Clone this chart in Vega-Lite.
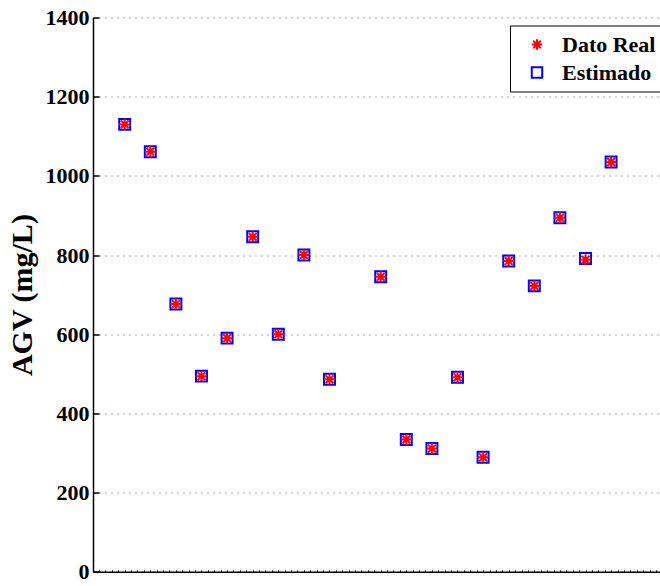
{
  "$schema": "https://vega.github.io/schema/vega-lite/v6.json",
  "autosize": {"type": "none"},
  "padding": {"left": 93, "top": 17.5, "right": 0, "bottom": 14.3},
  "width": 567,
  "height": 554.2,
  "background": "white",
  "config": {
    "view": {"stroke": null},
    "font": "Liberation Serif"
  },
  "data": {
    "values": [
      {"muestra": 1, "serie": "Estimado", "agv": 1130},
      {"muestra": 2, "serie": "Estimado", "agv": 1061},
      {"muestra": 3, "serie": "Estimado", "agv": 676},
      {"muestra": 4, "serie": "Estimado", "agv": 494},
      {"muestra": 5, "serie": "Estimado", "agv": 590},
      {"muestra": 6, "serie": "Estimado", "agv": 846},
      {"muestra": 7, "serie": "Estimado", "agv": 600},
      {"muestra": 8, "serie": "Estimado", "agv": 800},
      {"muestra": 9, "serie": "Estimado", "agv": 486},
      {"muestra": 11, "serie": "Estimado", "agv": 745},
      {"muestra": 12, "serie": "Estimado", "agv": 334},
      {"muestra": 13, "serie": "Estimado", "agv": 311},
      {"muestra": 14, "serie": "Estimado", "agv": 491},
      {"muestra": 15, "serie": "Estimado", "agv": 289},
      {"muestra": 16, "serie": "Estimado", "agv": 785},
      {"muestra": 17, "serie": "Estimado", "agv": 722},
      {"muestra": 18, "serie": "Estimado", "agv": 894},
      {"muestra": 19, "serie": "Estimado", "agv": 791},
      {"muestra": 20, "serie": "Estimado", "agv": 1035},
      {"muestra": 1, "serie": "Dato Real", "agv": 1130},
      {"muestra": 2, "serie": "Dato Real", "agv": 1061},
      {"muestra": 3, "serie": "Dato Real", "agv": 676},
      {"muestra": 4, "serie": "Dato Real", "agv": 494},
      {"muestra": 5, "serie": "Dato Real", "agv": 590},
      {"muestra": 6, "serie": "Dato Real", "agv": 846},
      {"muestra": 7, "serie": "Dato Real", "agv": 600},
      {"muestra": 8, "serie": "Dato Real", "agv": 800},
      {"muestra": 9, "serie": "Dato Real", "agv": 486},
      {"muestra": 11, "serie": "Dato Real", "agv": 745},
      {"muestra": 12, "serie": "Dato Real", "agv": 334},
      {"muestra": 13, "serie": "Dato Real", "agv": 311},
      {"muestra": 14, "serie": "Dato Real", "agv": 491},
      {"muestra": 15, "serie": "Dato Real", "agv": 289},
      {"muestra": 16, "serie": "Dato Real", "agv": 785},
      {"muestra": 17, "serie": "Dato Real", "agv": 722},
      {"muestra": 18, "serie": "Dato Real", "agv": 894},
      {"muestra": 19, "serie": "Dato Real", "agv": 788},
      {"muestra": 20, "serie": "Dato Real", "agv": 1035}
    ]
  },
  "mark": {"type": "point", "filled": false, "size": 120, "strokeWidth": 2, "opacity": 1},
  "encoding": {
    "x": {
      "field": "muestra",
      "type": "quantitative",
      "scale": {"domain": [-0.238, 21.91], "nice": false, "zero": false},
      "axis": {
        "title": null,
        "labels": false,
        "grid": false,
        "domainColor": "black",
        "domainWidth": 1.5,
        "tickColor": "#333",
        "tickSize": -2,
        "tickWidth": 1,
        "values": [0,0.25,0.5,0.75,1,1.25,1.5,1.75,2,2.25,2.5,2.75,3,3.25,3.5,3.75,4,4.25,4.5,4.75,5,5.25,5.5,5.75,6,6.25,6.5,6.75,7,7.25,7.5,7.75,8,8.25,8.5,8.75,9,9.25,9.5,9.75,10,10.25,10.5,10.75,11,11.25,11.5,11.75,12,12.25,12.5,12.75,13,13.25,13.5,13.75,14,14.25,14.5,14.75,15,15.25,15.5,15.75,16,16.25,16.5,16.75,17,17.25,17.5,17.75,18,18.25,18.5,18.75,19,19.25,19.5,19.75,20,20.25,20.5,20.75,21,21.25,21.5,21.75]
      }
    },
    "y": {
      "field": "agv",
      "type": "quantitative",
      "scale": {"domain": [0, 1400], "nice": false, "zero": true},
      "axis": {
        "title": "AGV (mg/L)",
        "titleFont": "Liberation Serif",
        "titleFontSize": 30,
        "titleFontWeight": "bold",
        "titleColor": "black",
        "titlePadding": 8,
        "format": "d",
        "values": [0, 200, 400, 600, 800, 1000, 1200, 1400],
        "labelFont": "Liberation Serif",
        "labelFontSize": 22,
        "labelFontWeight": "bold",
        "labelColor": "black",
        "labelPadding": 10,
        "labelFlush": false,
        "labelOverlap": false,
        "tickSize": -6,
        "tickColor": "black",
        "tickWidth": 1.5,
        "domainColor": "black",
        "domainWidth": 1.5,
        "grid": true,
        "gridColor": "#555",
        "gridDash": [1, 5],
        "gridWidth": 1
      }
    },
    "color": {
      "field": "serie",
      "type": "nominal",
      "scale": {"domain": ["Dato Real", "Estimado"], "range": ["#FF0000", "#0000FF"]},
      "legend": {
        "title": null,
        "orient": "none",
        "legendX": 417,
        "legendY": 8,
        "fillColor": "white",
        "strokeColor": "black",
        "padding": 8,
        "symbolOffset": 8,
        "labelOffset": 14,
        "labelFont": "Liberation Serif",
        "labelFontSize": 22,
        "labelFontWeight": "bold",
        "labelColor": "black",
        "rowPadding": 6,
        "symbolSize": 110,
        "symbolStrokeWidth": 2,
        "labelLimit": 300
      }
    },
    "shape": {
      "field": "serie",
      "type": "nominal",
      "scale": {"domain": ["Dato Real", "Estimado"], "range": ["M0,-1L0,1M-1,0L1,0M-0.72,-0.72L0.72,0.72M-0.72,0.72L0.72,-0.72", "square"]}
    }
  }
}
